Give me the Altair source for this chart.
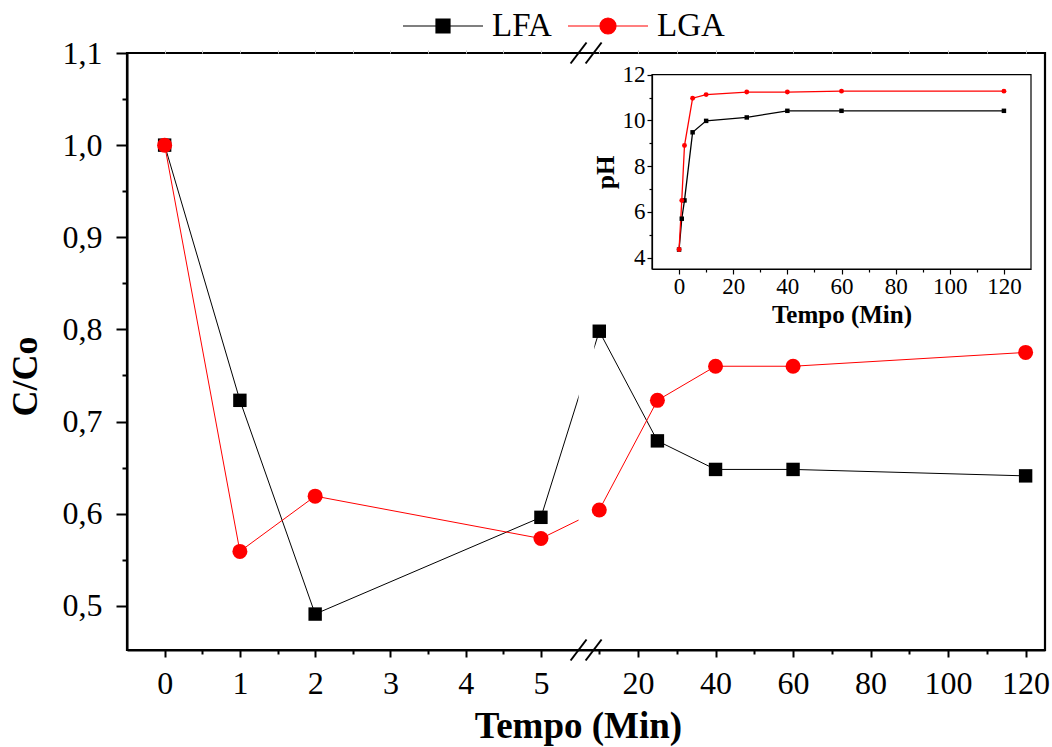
import altair as alt
import pandas as pd

# ---------------- data ----------------
series = ["LFA", "LGA"]
colors = ["black", "red"]

time_min = [0, 1, 2, 5, 10, 25, 40, 60, 120]
cc_lfa = [1.000, 0.723, 0.491, 0.596, 0.798, 0.679, 0.648, 0.648, 0.641]
cc_lga = [1.000, 0.559, 0.619, 0.573, 0.604, 0.723, 0.760, 0.760, 0.775]

ph_time = [0, 1, 2, 5, 10, 25, 40, 60, 120]
ph_lfa = [4.35, 5.70, 6.50, 9.48, 9.98, 10.13, 10.42, 10.42, 10.42]
ph_lga = [4.35, 6.50, 8.90, 10.97, 11.13, 11.24, 11.24, 11.28, 11.28]

x_major_left = [0, 1, 2, 3, 4, 5]
x_minor_left = [0.5, 1.5, 2.5, 3.5, 4.5]
x_major_right = [20, 40, 60, 80, 100, 120]
x_minor_right = [10, 30, 50, 70, 90, 110]
y_major = [0.5, 0.6, 0.7, 0.8, 0.9, 1.0, 1.1]
y_minor = [0.55, 0.65, 0.75, 0.85, 0.95, 1.05]
ph_x_major = [0, 20, 40, 60, 80, 100, 120]
ph_x_minor = [10, 30, 50, 70, 90, 110]
ph_y_major = [4, 6, 8, 10, 12]
ph_y_minor = [5, 7, 9, 11]

# ---------------- layout / style ----------------
SERIF = "Liberation Serif"
W, H = 918, 597
Y_MIN, Y_MAX = 0.452, 1.1
BREAK_U = 5.6      # axis position of the break
BREAK_T = 6.6      # minutes at the right side of the break
K = 0.0515         # axis units per minute on the right segment
X_MIN = -0.5
X_MAX = BREAK_U + (125 - BREAK_T) * K


def to_u(t):
    return t if t <= BREAK_U else BREAK_U + (t - BREAK_T) * K


x_major_u = [to_u(v) for v in x_major_left + x_major_right]
x_minor_u = [to_u(v) for v in x_minor_left + x_minor_right]

main_df = pd.DataFrame({
    "t": time_min * 2,
    "cc": cc_lfa + cc_lga,
    "serie": ["LFA"] * len(time_min) + ["LGA"] * len(time_min),
})
ph_df = pd.DataFrame({
    "t": ph_time * 2,
    "ph": ph_lfa + ph_lga,
    "serie": ["LFA"] * len(ph_time) + ["LGA"] * len(ph_time),
})

u_expr = f"datum.t <= {BREAK_U} ? datum.t : {BREAK_U} + (datum.t - {BREAK_T}) * {K}"
tval = f"(datum.value <= {BREAK_U} ? datum.value : {BREAK_T} + (datum.value - {BREAK_U}) / {K})"

xs = alt.Scale(domain=[X_MIN, X_MAX], nice=False, zero=False)
ys = alt.Scale(domain=[Y_MIN, Y_MAX], nice=False, zero=False)
cs = alt.Scale(domain=series, range=colors)


def major_axis(orient, values, label_expr, title, tsize, lsize, lpad, tpad,
               ticklen, width, offset=0, **kw):
    return alt.Axis(
        orient=orient, values=values, labelExpr=label_expr, offset=offset,
        title=title, titleFont=SERIF, titleFontSize=tsize, titleFontWeight="bold",
        titleColor="black", titlePadding=tpad,
        labelFont=SERIF, labelFontSize=lsize, labelColor="black", labelPadding=lpad,
        labelOverlap=False, labelFlush=False,
        tickSize=ticklen, tickWidth=width, tickColor="black",
        domainColor="black", domainWidth=width, grid=False, **kw,
    )


def minor_axis(orient, values, ticklen, width, offset=0, color="black"):
    return alt.Axis(
        orient=orient, values=values, labels=False, title=None, domain=False,
        offset=offset, tickSize=ticklen, tickWidth=width, tickColor=color, grid=False,
    )


main_x_axis = major_axis("bottom", x_major_u, f"format(round({tval}), 'd')",
                         "Tempo (Min)", 37, 32, 11, 9, 7, 2, titleX=451)
main_y_axis = major_axis("left", y_major, "replace(format(datum.value, '.1f'), '.', ',')",
                         "C/Co", 36, 32, 14, 18, 11, 2, titleY=323)

base = alt.Chart(main_df).transform_calculate(u=u_expr)

# legend carrier (no visible marks; entries come from the fixed scale domain)
sym_sq = "M-1,0H1M-0.175,-0.175H0.175V0.175H-0.175Z"
sym_ci = "M-1,0H1M0.2,0A0.2,0.2,0,1,1,-0.2,0A0.2,0.2,0,1,1,0.2,0Z"
legend = alt.Legend(
    title=None, orient="none", legendX=275, legendY=-68, direction="horizontal",
    symbolSize=6400, symbolStrokeWidth=1.2, symbolOpacity=1, symbolStrokeColor="black",
    labelFont=SERIF, labelFontSize=33, labelColor="black", labelOffset=8,
    columnPadding=13, padding=0,
)
legend_layer = base.transform_filter("false").mark_point(filled=True).encode(
    x=alt.X("u:Q", scale=xs, axis=None),
    y=alt.Y("cc:Q", scale=ys, axis=None),
    color=alt.Color("serie:N", scale=cs, legend=legend),
    stroke=alt.Stroke("serie:N", scale=cs, legend=legend),
    shape=alt.Shape("serie:N", scale=alt.Scale(domain=series, range=[sym_sq, sym_ci]), legend=legend),
)

lines = base.mark_line(strokeWidth=1).encode(
    x=alt.X("u:Q", scale=xs, axis=main_x_axis),
    y=alt.Y("cc:Q", scale=ys, axis=main_y_axis),
    color=alt.Color("serie:N", scale=cs),
)

# white gap where the lines cross the axis break (also carries the minor ticks)
gap_df = pd.DataFrame({"b": [BREAK_U]})
gap = alt.Chart(gap_df).transform_calculate(
    x1="datum.b - 0.1", x2="datum.b + 0.11", y1=f"{Y_MIN} + 0.01", y2=f"{Y_MAX} - 0.01"
).mark_rect(color="white").encode(
    x=alt.X("x1:Q", scale=xs, axis=minor_axis("bottom", x_minor_u, 4, 2)), x2="x2:Q",
    y=alt.Y("y1:Q", scale=ys, axis=minor_axis("left", y_minor, 5, 2)), y2="y2:Q",
)

pts_lfa = base.transform_filter("datum.serie == 'LFA'").mark_point(
    shape="square", filled=True, opacity=1, size=180
).encode(
    x=alt.X("u:Q", scale=xs, axis=None),
    y=alt.Y("cc:Q", scale=ys, axis=None),
    color=alt.Color("serie:N", scale=cs),
)
pts_lga = base.transform_filter("datum.serie == 'LGA'").mark_point(
    shape="circle", filled=True, opacity=1, size=225
).encode(
    x=alt.X("u:Q", scale=xs, axis=None),
    y=alt.Y("cc:Q", scale=ys, axis=None),
    color=alt.Color("serie:N", scale=cs),
)

# break marks "//" on bottom and top edges (also carries the faint top ticks)
brk_df = pd.DataFrame({"edge": [Y_MIN, Y_MIN, Y_MAX, Y_MAX], "shift": [-0.1, 0.1, -0.1, 0.1]})
slashes = alt.Chart(brk_df).transform_calculate(
    xa=f"{BREAK_U} + datum.shift - 0.106", xb=f"{BREAK_U} + datum.shift + 0.106",
    ya="datum.edge - 0.0114", yb="datum.edge + 0.0114",
).mark_rule(color="black", strokeWidth=2).encode(
    x=alt.X("xa:Q", scale=xs,
            axis=minor_axis("top", sorted(x_major_u + x_minor_u), 3, 1, color="#c8c8c8")),
    x2="xb:Q",
    y=alt.Y("ya:Q", scale=ys, axis=None), y2="yb:Q",
)

main = alt.layer(legend_layer, lines, gap, pts_lfa, pts_lga, slashes).resolve_axis(
    x="independent", y="independent")

# ---------------- inset ----------------
ixs = alt.Scale(domain=[-10, 130], range=[525, 904], nice=False, zero=False)
iys = alt.Scale(domain=[3.5, 12], range=[216, 21.7], nice=False, zero=False)
IX_OFF, IY_OFF = -381, -525

inset_x_axis = major_axis("bottom", ph_x_major, "format(datum.value, 'd')",
                          "Tempo (Min)", 25, 23, 1, 4, 5, 1.2, IX_OFF)
inset_y_axis = major_axis("left", ph_y_major, "format(datum.value, 'd')",
                          "pH", 25, 23, 2, 4, 5, 1.2, IY_OFF)

ibase = alt.Chart(ph_df)
inset_lines = ibase.mark_line(strokeWidth=1.3).encode(
    x=alt.X("t:Q", scale=ixs, axis=inset_x_axis),
    y=alt.Y("ph:Q", scale=iys, axis=inset_y_axis),
    color=alt.Color("serie:N", scale=cs),
)
ipts_lfa = ibase.transform_filter("datum.serie == 'LFA'").mark_point(
    shape="square", filled=True, opacity=1, size=20
).encode(
    x=alt.X("t:Q", scale=ixs, axis=None),
    y=alt.Y("ph:Q", scale=iys, axis=None),
    color=alt.Color("serie:N", scale=cs),
)
ipts_lga = ibase.transform_filter("datum.serie == 'LGA'").mark_point(
    shape="circle", filled=True, opacity=1, size=24
).encode(
    x=alt.X("t:Q", scale=ixs, axis=None),
    y=alt.Y("ph:Q", scale=iys, axis=None),
    color=alt.Color("serie:N", scale=cs),
)
frame_df = pd.DataFrame({"x0": [-10], "x1": [130], "y0": [3.5], "y1": [12]})
inset_frame = alt.Chart(frame_df).mark_rect(
    fill="white", fillOpacity=0, stroke="black", strokeWidth=1.2
).encode(
    x=alt.X("x0:Q", scale=ixs, axis=minor_axis("bottom", ph_x_minor, 3, 1.2, IX_OFF)), x2="x1:Q",
    y=alt.Y("y0:Q", scale=iys, axis=minor_axis("left", ph_y_minor, 3, 1.2, IY_OFF)), y2="y1:Q",
)

inset = alt.layer(inset_frame, inset_lines, ipts_lfa, ipts_lga).resolve_axis(
    x="independent", y="independent")

chart = alt.layer(main, inset).resolve_scale(
    x="independent", y="independent"
).properties(
    width=W, height=H,
    autosize=alt.AutoSizeParams(type="none"),
    padding={"left": 127, "top": 53, "right": 7, "bottom": 97},
    background="white",
).configure_view(stroke="black", strokeWidth=2.2)

chart.save("out.html", embed_options={"renderer": "svg", "actions": False})
